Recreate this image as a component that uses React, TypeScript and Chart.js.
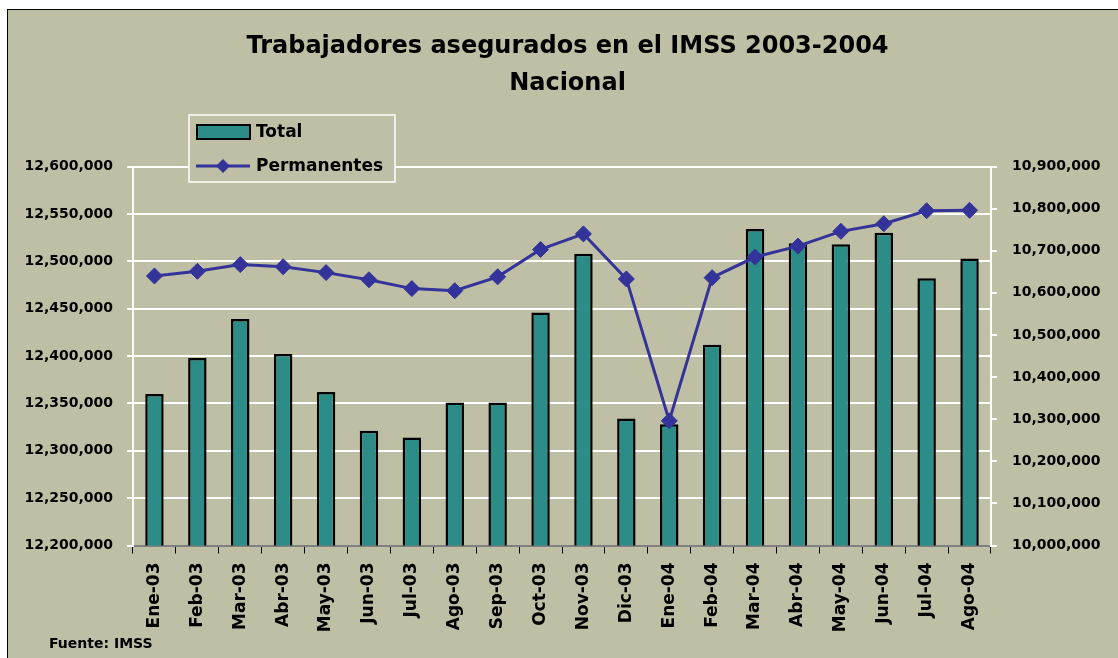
import React, { useEffect, useRef } from 'react';
import { Chart, registerables } from 'chart.js';

Chart.register(...registerables);

const titleLines = ['Trabajadores asegurados en el IMSS 2003-2004', 'Nacional'];
const sourceNote = 'Fuente: IMSS';
const seriesNames = ['Total', 'Permanentes'];

const categories = [
  'Ene-03', 'Feb-03', 'Mar-03', 'Abr-03', 'May-03', 'Jun-03', 'Jul-03', 'Ago-03', 'Sep-03', 'Oct-03',
  'Nov-03', 'Dic-03', 'Ene-04', 'Feb-04', 'Mar-04', 'Abr-04', 'May-04', 'Jun-04', 'Jul-04', 'Ago-04',
];

const totalValues = [
  12360000, 12398000, 12439000, 12402000, 12362000, 12321000, 12314000, 12351000, 12351000, 12446000,
  12508000, 12334000, 12328000, 12412000, 12534000, 12519000, 12518000, 12530000, 12482000, 12503000,
];

const permanentesValues = [
  10640000, 10651000, 10667000, 10662000, 10648000, 10631000, 10610000, 10605000, 10638000, 10703000,
  10740000, 10633000, 10296000, 10636000, 10685000, 10711000, 10746000, 10764000, 10795000, 10796000,
];

const leftAxis = { min: 12200000, max: 12600000, step: 50000 };
const rightAxis = { min: 10000000, max: 10900000, step: 100000 };

const FONT = "'DejaVu Sans', sans-serif";
const BG = '#BFBFA5';
const BAR = '#2B8C88';
const LINE = '#333399';

const CANVAS_W = 1119;
const CANVAS_H = 648;

const fmt = (v: number) => Math.round(v).toLocaleString('en-US');

const overlayPlugin = {
  id: 'overlay',
  afterDraw(chart: any) {
    const ctx = chart.ctx as CanvasRenderingContext2D;
    ctx.save();
    // legend box
    const bx = 181, by = 105, bw = 206, bh = 67;
    ctx.fillStyle = BG;
    ctx.fillRect(bx, by, bw, bh);
    ctx.strokeStyle = '#FFFFFF';
    ctx.lineWidth = 1.5;
    ctx.strokeRect(bx, by, bw, bh);
    // bar swatch
    ctx.fillStyle = BAR;
    ctx.fillRect(189, 115, 53, 14);
    ctx.strokeStyle = '#000000';
    ctx.lineWidth = 2;
    ctx.strokeRect(189, 115, 53, 14);
    // line swatch
    ctx.strokeStyle = LINE;
    ctx.lineWidth = 3;
    ctx.beginPath();
    ctx.moveTo(188, 156);
    ctx.lineTo(242, 156);
    ctx.stroke();
    ctx.fillStyle = LINE;
    ctx.beginPath();
    ctx.moveTo(215, 149);
    ctx.lineTo(222, 156);
    ctx.lineTo(215, 163);
    ctx.lineTo(208, 156);
    ctx.closePath();
    ctx.fill();
    // legend text
    ctx.fillStyle = '#000000';
    ctx.font = `bold 17px ${FONT}`;
    ctx.textBaseline = 'middle';
    ctx.textAlign = 'left';
    ctx.fillText(seriesNames[0], 248, 123);
    ctx.fillText(seriesNames[1], 248, 157);
    // source note
    ctx.font = `bold 14px ${FONT}`;
    ctx.fillText(sourceNote, 41, 634);
    ctx.restore();
  },
};

export default function App() {
  const canvasRef = useRef<HTMLCanvasElement | null>(null);

  useEffect(() => {
    if (!canvasRef.current) return;
    const chart = new Chart(canvasRef.current, {
      type: 'bar',
      data: {
        labels: categories,
        datasets: [
          {
            type: 'line',
            label: seriesNames[1],
            data: permanentesValues,
            yAxisID: 'y1',
            borderColor: LINE,
            backgroundColor: LINE,
            borderWidth: 3,
            pointStyle: 'rectRot',
            pointRadius: 8,
            pointBackgroundColor: LINE,
            pointBorderColor: LINE,
            pointBorderWidth: 1,
            tension: 0,
            order: 0,
          } as any,
          {
            type: 'bar',
            label: seriesNames[0],
            data: totalValues,
            yAxisID: 'y',
            backgroundColor: BAR,
            borderColor: '#000000',
            borderWidth: 2.5,
            borderSkipped: false,
            barPercentage: 0.43,
            categoryPercentage: 1,
            order: 1,
          } as any,
        ],
      },
      options: {
        responsive: false,
        animation: false,
        devicePixelRatio: 1,
        layout: { padding: 0 },
        plugins: {
          legend: { display: false },
          tooltip: { enabled: false },
          title: {
            display: true,
            text: titleLines,
            color: '#000000',
            font: { family: FONT, size: 24, weight: 'bold', lineHeight: 37 / 24 },
            padding: { top: 18, bottom: 64.5 },
          },
        },
        scales: {
          x: {
            offset: true,
            grid: {
              display: true,
              drawOnChartArea: false,
              offset: true,
              color: '#000000',
              tickLength: 8,
              lineWidth: 1,
            },
            border: { display: true, color: '#808080', width: 2 },
            ticks: {
              autoSkip: false,
              minRotation: 90,
              maxRotation: 90,
              padding: 9,
              color: '#000000',
              font: { family: FONT, size: 17, weight: 'bold' },
            },
            afterFit(scale: any) {
              scale.height = 112.5;
            },
          },
          y: {
            position: 'left',
            min: leftAxis.min,
            max: leftAxis.max,
            ticks: {
              stepSize: leftAxis.step,
              color: '#000000',
              padding: 14,
              font: { family: FONT, size: 14, weight: 'bold' },
              callback: (v: any) => fmt(Number(v)),
            },
            grid: {
              color: '#FFFFFF',
              lineWidth: 2,
              tickLength: 6,
              tickColor: '#FFFFFF',
            },
            border: { display: true, color: '#FFFFFF', width: 2 },
            afterFit(scale: any) {
              scale.width = 125;
            },
          },
          y1: {
            position: 'right',
            min: rightAxis.min,
            max: rightAxis.max,
            ticks: {
              stepSize: rightAxis.step,
              color: '#000000',
              padding: 15,
              font: { family: FONT, size: 14, weight: 'bold' },
              callback: (v: any) => fmt(Number(v)),
            },
            grid: {
              drawOnChartArea: false,
              color: '#FFFFFF',
              tickColor: '#FFFFFF',
              tickLength: 6,
              lineWidth: 2,
            },
            border: { display: true, color: '#FFFFFF', width: 2 },
            afterFit(scale: any) {
              scale.width = CANVAS_W - 983;
            },
          },
        },
      },
      plugins: [overlayPlugin],
    } as any);
    return () => chart.destroy();
  }, []);

  return (
    <div
      style={{
        position: 'fixed',
        left: 7,
        top: 9,
        width: 1111,
        height: 649,
        overflow: 'hidden',
        background: BG,
        borderLeft: '1px solid #000',
        borderTop: '1px solid #000',
      }}
    >
      <canvas ref={canvasRef} width={CANVAS_W} height={CANVAS_H} style={{ display: 'block' }} />
    </div>
  );
}
